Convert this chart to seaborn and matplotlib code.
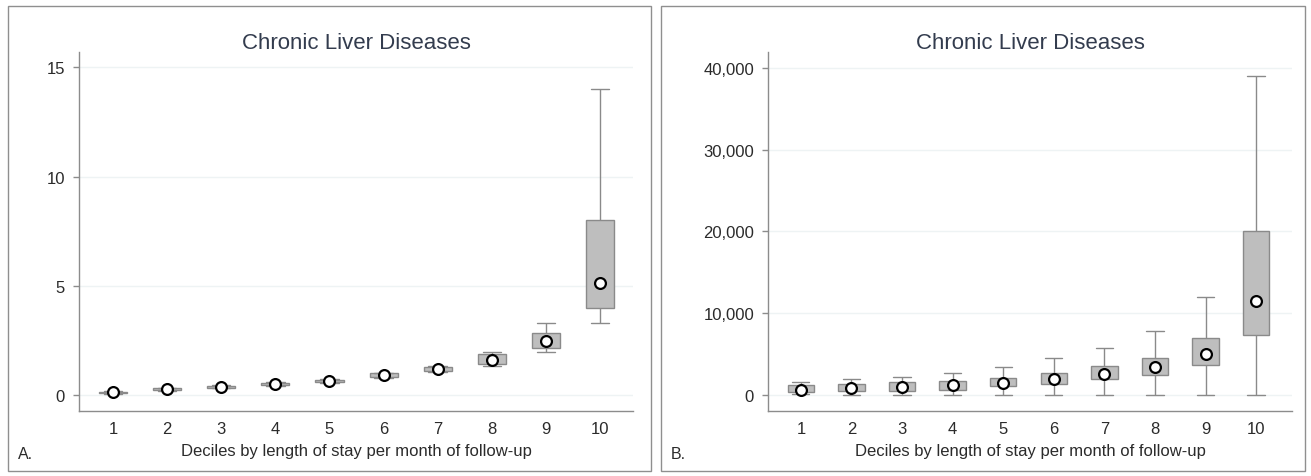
import matplotlib
matplotlib.use("Agg")
import matplotlib.pyplot as plt
from matplotlib.patches import Rectangle
from matplotlib.ticker import FuncFormatter
import pandas as pd
import seaborn as sns

# Deciles of length of stay per month of follow-up
deciles = ["1", "2", "3", "4", "5", "6", "7", "8", "9", "10"]

# Panel A: five-number summaries per decile (min, q1, median, q3, max)
a_low = [0.07, 0.20, 0.31, 0.43, 0.57, 0.78, 1.06, 1.35, 1.97, 3.30]
a_q1 = [0.10, 0.23, 0.34, 0.46, 0.60, 0.82, 1.10, 1.40, 2.16, 4.00]
a_med = [0.13, 0.27, 0.38, 0.50, 0.65, 0.90, 1.20, 1.60, 2.48, 5.15]
a_q3 = [0.16, 0.30, 0.42, 0.55, 0.70, 0.99, 1.30, 1.88, 2.84, 8.00]
a_high = [0.19, 0.33, 0.45, 0.58, 0.73, 1.03, 1.35, 1.97, 3.30, 14.00]
a_ticks = [0, 5, 10, 15]

# Panel B: five-number summaries per decile (min, q1, median, q3, max)
b_low = [100, 0, 0, 0, 0, 0, 0, 0, 0, 0]
b_q1 = [330, 410, 450, 530, 1000, 1310, 1880, 2370, 3590, 7340]
b_med = [600, 800, 950, 1200, 1450, 1960, 2490, 3340, 5020, 11500]
b_q3 = [1140, 1310, 1550, 1670, 2060, 2610, 3470, 4530, 6980, 20000]
b_high = [1550, 1880, 2200, 2690, 3360, 4490, 5750, 7750, 12000, 39000]
b_ticks = [0, 10000, 20000, 30000, 40000]

title = "Chronic Liver Diseases"
xlabel = "Deciles by length of stay per month of follow-up"


def long_frame(low, q1, med, q3, high):
    rows = []
    for d, vals in zip(deciles, zip(low, q1, med, q3, high)):
        for v in vals:
            rows.append((d, v))
    return pd.DataFrame(rows, columns=["decile", "value"])


sns.set_theme(style="white")
plt.rcParams["font.family"] = ["Liberation Sans", "DejaVu Sans"]

W, H = 1311, 477
fig = plt.figure(figsize=(W / 100, H / 100), dpi=100)

grid_c = "#eef3f4"
axis_c = "#8c8c8c"
box_line = "#8a8a8a"
box_fill = "#bebebe"
text_c = "#2b2b2b"
title_c = "#333c4e"


def px_axes(left, right, top, bottom):
    return fig.add_axes([left / W, 1 - bottom / H, (right - left) / W, (bottom - top) / H])


def draw_panel(ax, low, q1, med, q3, high, ticks, ylim, xlim, fmt):
    df = long_frame(low, q1, med, q3, high)
    sns.boxplot(
        data=df, x="decile", y="value", order=deciles, ax=ax,
        whis=(0, 100), width=0.52, color=box_fill, linecolor=box_line,
        linewidth=1.0, showfliers=False, capwidths=0.34,
        medianprops=dict(linewidth=0, alpha=0),
        boxprops=dict(facecolor=box_fill, edgecolor=box_line),
        whiskerprops=dict(color=box_line), capprops=dict(color=box_line),
    )
    mf = pd.DataFrame({"decile": deciles, "value": med})
    sns.stripplot(
        data=mf, x="decile", y="value", order=deciles, ax=ax, jitter=False,
        color="white", edgecolor="black", linewidth=1.6, size=7.8, zorder=5,
    )
    ax.set_xlim(*xlim)
    ax.set_ylim(*ylim)
    ax.set_yticks(ticks)
    ax.yaxis.set_major_formatter(FuncFormatter(fmt))
    for t in ticks:
        ax.axhline(t, color=grid_c, lw=1.0, zorder=0)
    ax.set_title(title, fontsize=16, color=title_c, pad=3)
    ax.set_xlabel(xlabel, fontsize=12, color=text_c, labelpad=5.5)
    ax.set_ylabel("")
    for s in ("top", "right"):
        ax.spines[s].set_visible(False)
    for s in ("left", "bottom"):
        ax.spines[s].set_color(axis_c)
        ax.spines[s].set_linewidth(1.0)
    ax.tick_params(axis="both", which="major", length=4, width=1.0, color=axis_c,
                   labelsize=12, labelcolor=text_c, left=True, bottom=False)
    ax.tick_params(axis="y", pad=6)
    ax.tick_params(axis="x", pad=3)


ax_a = px_axes(79, 633, 53, 412)
draw_panel(ax_a, a_low, a_q1, a_med, a_q3, a_high, a_ticks,
           (-0.73, 15.7), (-0.63, 9.61), lambda v, p: f"{v:.0f}")

ax_b = px_axes(768, 1292, 53, 412)
draw_panel(ax_b, b_low, b_q1, b_med, b_q3, b_high, b_ticks,
           (-2000, 41950), (-0.65, 9.71), lambda v, p: f"{v:,.0f}")

# Panel frames and letters
for x0, x1, letter in ((8, 651, "A."), (661, 1305, "B.")):
    fig.add_artist(Rectangle((x0 / W, 1 - 472 / H), (x1 - x0) / W, (472 - 7) / H,
                             transform=fig.transFigure, fill=False,
                             edgecolor="#8f8f8f", lw=1.0))
    fig.text((x0 + 10) / W, 1 - 455 / H, letter, fontsize=11.5, color=text_c,
             ha="left", va="center")

fig.savefig("out.png", dpi=100, facecolor="white")
